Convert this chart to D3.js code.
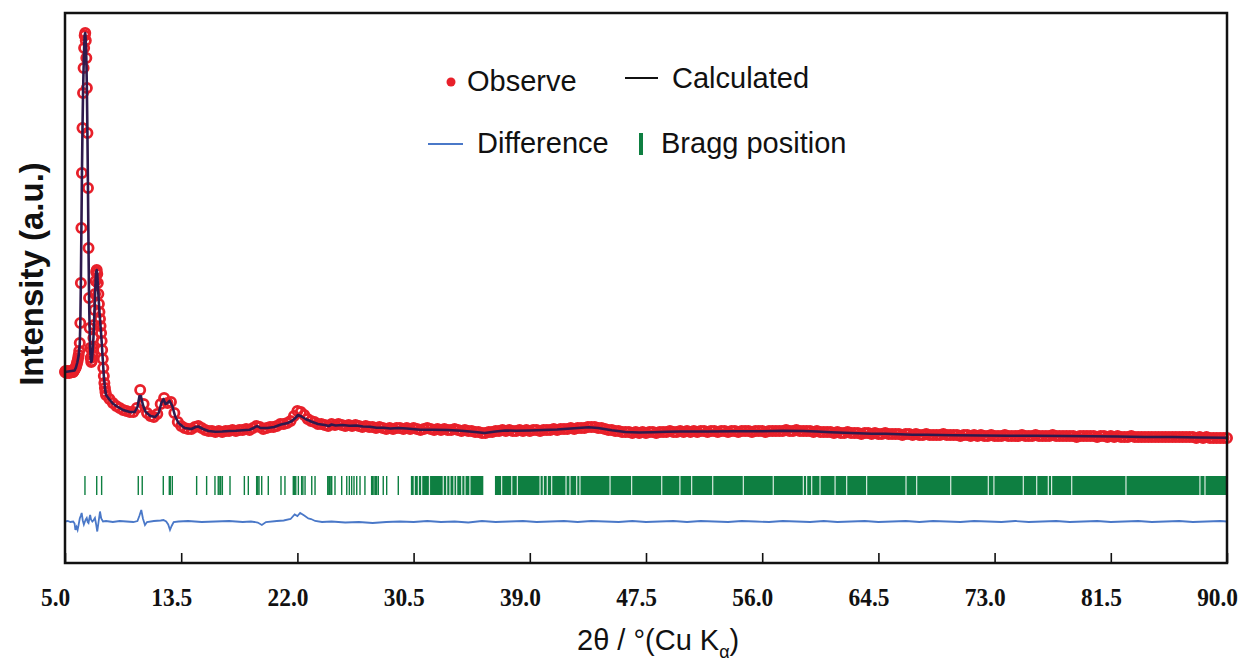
<!DOCTYPE html>
<html>
<head>
<meta charset="utf-8">
<script src="https://cdn.jsdelivr.net/npm/d3@7"></script>
<style>
  html, body { margin: 0; padding: 0; background: #ffffff; }
  svg { display: block; }
</style>
</head>
<body>
<svg id="chart" width="1243" height="667"></svg>
<script>
// ---- x axis ticks (2θ, degrees) ----
const xTicks = [5.0, 13.5, 22.0, 30.5, 39.0, 47.5, 56.0, 64.5, 73.0, 81.5, 90.0];

// ---- observed pattern, low-angle scan (fine step) ----
const scanA = { start: 5.0, step: 0.04 };
const obsA = [
  1820, 1840, 1820, 1800, 1820, 1840, 1820, 1820, 1800, 1820, 1840, 1820, 1820, 1840, 1820, 1820, 1840, 1860,
  1880, 1900, 1920, 1960, 2000, 2040, 2100,
  2160, 2240, 2400, 2800, 3600, 4700, 5800, 6700, 7400, 7900, 8300, 8550, 8600, 8450, 8100, 7500, 6600, 5500, 4300, 3300, 2700, 2300, 2100, 2020, 2040,
  2160, 2300, 2500, 2760, 3060, 3380, 3640, 3820, 3860, 3780, 3600, 3380, 3180, 3020, 2880, 2740, 2600, 2440, 2260, 2080, 1900, 1740, 1600, 1500, 1420
];

// ---- observed pattern, main scan (0.25° step, 8°–90°) ----
const scanB = { start: 8.0, step: 0.25 };
const obsB = [
  1360, 1280, 1200, 1140,  1100, 1060, 1040, 1020,  1020, 1100, 1460, 1180,  1000, 940, 920, 980,
  1180, 1300, 1200, 1220,  1000, 820, 740, 700,  680, 680, 720, 740,  700, 660, 640, 640,
  620, 640, 620, 640,  640, 660, 640, 660,  660, 680, 660, 700,  740, 720, 680, 700,
  720, 720, 740, 780,  780, 800, 840, 940,  1040, 1020, 960, 880,  840, 820, 780, 780,
  760, 740, 780, 760,  780, 760, 740, 760,  740, 760, 740, 720,  740, 720, 720, 700,
  720, 700, 680, 700,  680, 700, 700, 680,  700, 680, 700, 680,  660, 680, 700, 680,
  660, 680, 660, 680,  660, 660, 680, 660,  640, 660, 640, 640,  620, 620, 600, 600,
  620, 620, 640, 640,  660, 640, 660, 640,  640, 660, 640, 660,  640, 660, 660, 640,
  660, 660, 660, 680,  660, 680, 680, 680,  700, 680, 700, 700,  700, 720, 720, 720,
  700, 700, 680, 660,  660, 640, 640, 620,  620, 620, 600, 620,  600, 620, 600, 620,
  620, 600, 620, 620,  620, 640, 620, 620,  640, 620, 640, 620,  640, 620, 640, 640,
  620, 640, 640, 620,  640, 640, 620, 640,  640, 620, 640, 640,  640, 620, 640, 640,
  640, 620, 640, 640,  640, 640, 640, 660,  640, 640, 660, 640,  640, 640, 640, 620,
  640, 620, 620, 620,  620, 600, 620, 600,  600, 620, 600, 600,  600, 580, 600, 600,
  580, 600, 580, 580,  600, 580, 580, 580,  580, 560, 580, 580,  560, 580, 560, 560,
  580, 560, 560, 560,  560, 580, 560, 560,  560, 560, 540, 560,  560, 540, 560, 540,
  560, 540, 540, 560,  540, 540, 540, 560,  540, 540, 540, 540,  560, 540, 540, 540,
  560, 540, 540, 540,  540, 560, 540, 540,  540, 540, 540, 540,  520, 540, 540, 540,
  540, 540, 520, 540,  540, 520, 540, 520,  540, 520, 520, 520,  540, 520, 520, 520,
  520, 520, 520, 520,  520, 520, 520, 520,  520, 520, 520, 520,  520, 520, 520, 500,
  520, 500, 520, 500,  500, 500, 500, 500,
  500
];

// ---- calculated profile [2θ, intensity] ----
const calcPoints = [
  [5.0,1820],[5.7,1850],[5.8,1910],[5.9,2010],[6.0,2150],[6.08,2380],[6.12,2780],[6.16,3580],[6.2,4680],
  [6.24,5790],[6.28,6700],[6.32,7400],[6.36,7900],[6.4,8300],[6.44,8560],[6.48,8600],[6.52,8440],[6.56,8090],
  [6.6,7500],[6.64,6600],[6.68,5500],[6.72,4300],[6.76,3300],[6.8,2700],[6.84,2300],[6.88,2100],[6.92,2020],
  [6.96,2040],[7.0,2160],[7.08,2500],[7.16,3060],[7.24,3640],[7.28,3820],[7.32,3860],[7.36,3780],[7.44,3380],
  [7.52,3020],[7.6,2740],[7.68,2440],[7.76,2080],[7.84,1740],[7.92,1500],[8.0,1360],[8.25,1270],[8.5,1190],
  [8.75,1140],[9.25,1060],[9.75,1020],[10.1,1020],[10.3,1120],[10.45,1340],[10.55,1340],[10.7,1160],[10.9,1020],
  [11.25,940],[11.6,920],[11.85,1000],[12.05,1200],[12.2,1280],[12.35,1180],[12.5,1200],[12.65,1240],[12.85,1140],
  [13.05,940],[13.3,800],[13.75,700],[14.25,680],[14.55,720],[14.75,730],[15.1,680],[15.5,640],[16.0,625],
  [16.5,630],[17.0,640],[17.5,645],[18.0,655],[18.5,665],[18.8,700],[19.05,740],[19.3,700],[19.8,700],
  [20.3,720],[20.8,770],[21.3,800],[21.6,840],[21.85,900],[22.05,960],[22.3,930],[22.6,880],[23.0,830],
  [23.5,780],[24.0,760],[24.3,740],[24.5,770],[24.8,750],[25.3,760],[25.8,745],[26.3,750],[26.8,730],
  [27.3,725],[27.8,705],[28.3,705],[28.8,690],[29.4,700],[30.0,690],[31.0,665],[32.0,665],[33.0,660],
  [34.0,645],[35.0,620],[35.7,600],[36.5,630],[37.2,650],[38.0,645],[39.0,650],[40.0,660],[41.0,670],
  [42.0,690],[43.3,715],[44.0,700],[45.0,655],[46.0,620],[47.0,610],[48.0,615],[49.0,625],[50.0,630],
  [52.0,630],[54.0,635],[56.0,635],[57.5,645],[59.0,640],[60.0,630],[61.0,615],[62.0,605],[63.0,595],
  [64.0,585],[65.0,585],[66.0,575],[67.0,565],[68.0,565],[70.0,555],[72.0,550],[74.0,545],[76.0,545],
  [78.0,540],[80.0,535],[82.0,530],[84.0,520],[86.0,520],[88.0,510],[90.0,505]
];

// ---- difference (obs − calc) [2θ, intensity], plotted below the pattern ----
const diffOffset = -1170;
const diffPoints = [
  [5.0,0],[5.2,10],[5.4,-10],[5.6,0],[5.7,-40],[5.76,-170],[5.84,-110],[5.92,-170],[6.0,-60],[6.08,60],
  [6.16,120],[6.22,170],[6.3,20],[6.38,-60],[6.46,0],[6.52,40],[6.59,70],[6.66,-10],[6.72,-30],[6.78,60],
  [6.84,130],[6.9,40],[7.0,0],[7.1,30],[7.19,70],[7.28,-60],[7.36,-200],[7.45,-20],[7.56,200],[7.65,60],
  [7.78,0],[8.0,10],[8.5,-10],[9.0,10],[9.5,0],[10.0,-10],[10.3,10],[10.45,120],[10.58,230],[10.7,60],
  [10.85,-70],[11.0,-10],[11.5,10],[12.0,20],[12.2,30],[12.4,0],[12.55,-60],[12.68,-170],[12.8,-90],[12.95,-10],
  [13.3,0],[14.0,10],[15.0,-10],[16.0,0],[17.0,10],[18.0,-10],[18.6,0],[19.1,-20],[19.4,-70],[19.7,-10],
  [20.5,10],[21.0,20],[21.5,50],[21.8,140],[22.0,110],[22.2,170],[22.5,120],[22.8,60],[23.0,50],[23.3,10],
  [23.8,-10],[24.5,0],[25.5,-20],[26.5,-10],[27.5,-30],[28.0,-20],[28.5,-10],[29.5,0],[30.5,-10],[31.5,10],
  [32.5,-10],[33.5,0],[34.5,-20],[35.5,10],[36.5,-10],[37.5,0],[38.5,10],[39.5,-10],[40.5,0],[41.5,10],
  [42.5,-10],[43.5,10],[44.5,0],[45.5,-10],[46.5,10],[47.5,-10],[48.5,0],[49.5,10],[50.5,-10],[51.5,10],
  [52.5,0],[53.5,-10],[54.5,10],[55.5,0],[56.5,-10],[57.5,10],[58.5,0],[59.5,-10],[60.5,10],[61.5,-10],
  [62.5,0],[63.5,10],[64.5,-10],[65.5,0],[66.5,10],[67.5,-10],[68.5,10],[69.5,0],[70.5,-10],[71.5,10],
  [72.5,0],[73.5,-10],[74.5,10],[75.5,-10],[76.5,0],[77.5,10],[78.5,-10],[79.5,0],[80.5,10],[81.5,-10],
  [82.5,0],[83.5,10],[84.5,-10],[85.5,0],[86.5,10],[87.5,-10],[88.5,0],[89.5,10],[90.0,0]
];

// ---- Bragg reflections ----
const braggTicks = [
  6.46, 7.32, 7.68, 10.36, 10.65, 12.19, 12.63, 12.70, 12.85, 14.63, 15.36, 15.97, 16.21, 16.33, 16.39, 16.51,
  17.07, 18.12, 18.41, 19.02, 19.10, 19.19, 19.39, 19.87, 20.80, 21.09, 21.70, 21.80, 21.88, 22.07, 22.31,
  22.40, 22.56, 23.05, 23.29, 24.22, 24.30, 24.36, 24.45, 24.51, 24.75, 25.24, 25.61, 25.80, 25.97, 26.14,
  26.34, 26.58, 26.94, 27.43, 27.50, 27.60, 27.70, 27.80, 27.92, 28.28, 28.53, 29.38
];
// ranges where reflections are too close to separate
const braggRanges = [[30.30, 35.60], [36.45, 90.0]];
const braggGaps = [
  30.55, 30.85, 31.09, 31.66, 32.67, 32.92, 33.16, 33.45, 33.65, 34.02, 34.26, 34.62,
  36.94, 37.68, 38.09, 39.75, 39.99, 40.28, 40.60, 41.65, 41.94, 42.43, 42.67, 44.87, 46.45, 48.65,
  49.98, 50.84, 52.38, 54.62, 56.81, 59.01, 59.25, 59.62, 60.23, 61.33, 62.18, 63.64, 66.52, 67.30,
  69.79, 72.54, 72.95, 75.10, 76.08, 76.93, 77.17, 78.64, 82.61, 88.02, 88.39
];
const braggBand = [-640, -260];

// ---- legend ----
const legendItems = ["Observe", "Calculated", "Difference", "Bragg position"];

const colors = {
  obs: "#e8202a",
  calc: "#2e1a4d",
  diff: "#4a78c8",
  bragg: "#0e7f41"
};

// ---------------------------------------------------------------
const svg = d3.select("#chart");
const plotLeft = 65, plotRight = 1227, plotTop = 13, plotBottom = 563;

const x = d3.scaleLinear().domain([5, 90]).range([plotLeft, plotRight]);
const y = d3.scaleLinear().domain([-2000, 9000]).range([plotBottom, plotTop]);

const toPoints = (scan, vals) => vals.map((v, i) => [scan.start + i * scan.step, v]);
const obsPoints = toPoints(scanA, obsA).concat(toPoints(scanB, obsB));

// Bragg markers
const gB = svg.append("g");
gB.selectAll("line.tick")
  .data(braggTicks)
  .join("line")
  .attr("class", "tick")
  .attr("x1", d => x(d)).attr("x2", d => x(d))
  .attr("y1", y(braggBand[1])).attr("y2", y(braggBand[0]))
  .attr("stroke", colors.bragg)
  .attr("stroke-width", 1.4);
gB.selectAll("rect")
  .data(braggRanges)
  .join("rect")
  .attr("x", d => x(d[0]))
  .attr("width", d => x(d[1]) - x(d[0]))
  .attr("y", y(braggBand[1]))
  .attr("height", y(braggBand[0]) - y(braggBand[1]))
  .attr("fill", colors.bragg);
gB.selectAll("line.gap")
  .data(braggGaps)
  .join("line")
  .attr("class", "gap")
  .attr("x1", d => x(d)).attr("x2", d => x(d))
  .attr("y1", y(braggBand[1])).attr("y2", y(braggBand[0]))
  .attr("stroke", "#ffffff")
  .attr("stroke-opacity", 0.85)
  .attr("stroke-width", 1.2);

// difference curve
svg.append("path")
  .datum(diffPoints)
  .attr("fill", "none")
  .attr("stroke", colors.diff)
  .attr("stroke-width", 1.8)
  .attr("d", d3.line().x(d => x(d[0])).y(d => y(d[1] + diffOffset)));

// observed points (open circles)
svg.append("g")
  .selectAll("circle")
  .data(obsPoints)
  .join("circle")
  .attr("cx", d => x(d[0]))
  .attr("cy", d => y(d[1]))
  .attr("r", 4.6)
  .attr("fill", "none")
  .attr("stroke", colors.obs)
  .attr("stroke-width", 2.8);

// calculated profile
svg.append("path")
  .datum(calcPoints)
  .attr("fill", "none")
  .attr("stroke", colors.calc)
  .attr("stroke-width", 2.6)
  .attr("stroke-linejoin", "round")
  .attr("d", d3.line().x(d => x(d[0])).y(d => y(d[1])));

// bottom axis with inward ticks; labels sit slightly left of their ticks
const xAxis = d3.axisBottom(x)
  .tickValues(xTicks)
  .tickFormat(d3.format(".1f"))
  .tickSizeInner(-10)
  .tickSizeOuter(0)
  .tickPadding(25);
const gx = svg.append("g").attr("transform", `translate(0,${plotBottom})`).call(xAxis);
gx.select(".domain").remove();
gx.selectAll(".tick line").attr("stroke", "#111").attr("stroke-width", 1.6);
gx.selectAll(".tick text")
  .attr("fill", "#111")
  .attr("x", -11)
  .attr("transform", "scale(0.9,1)")
  .style("font-family", "'Liberation Serif', 'Times New Roman', serif")
  .style("font-weight", "bold")
  .style("font-size", "26px");

// frame
svg.append("rect")
  .attr("x", plotLeft).attr("y", plotTop)
  .attr("width", plotRight - plotLeft).attr("height", plotBottom - plotTop)
  .attr("fill", "none")
  .attr("stroke", "#111")
  .attr("stroke-width", 2.5);

// axis titles
const xt = svg.append("text")
  .attr("x", 577).attr("y", 650)
  .attr("fill", "#111")
  .style("font-family", "'Liberation Sans', Arial, sans-serif")
  .style("font-size", "29px");
xt.append("tspan").text("2θ / °(Cu K");
xt.append("tspan").attr("dy", 8).style("font-size", "18px").text("α");
xt.append("tspan").attr("dy", -8).text(")");

svg.append("text")
  .attr("transform", "translate(31,274) rotate(-90)")
  .attr("text-anchor", "middle")
  .attr("dominant-baseline", "central")
  .attr("fill", "#111")
  .style("font-family", "'Liberation Sans', Arial, sans-serif")
  .style("font-weight", "bold")
  .style("font-size", "33px")
  .text("Intensity (a.u.)");

// legend
const lg = svg.append("g")
  .style("font-family", "'Liberation Sans', Arial, sans-serif")
  .style("font-size", "29px")
  .attr("fill", "#111");
lg.append("circle").attr("cx", 451).attr("cy", 82).attr("r", 4.5).attr("fill", colors.obs);
lg.append("text").attr("x", 467).attr("y", 91).text(legendItems[0]);
lg.append("line").attr("x1", 625).attr("x2", 658).attr("y1", 78).attr("y2", 78)
  .attr("stroke", "#111").attr("stroke-width", 2);
lg.append("text").attr("x", 672).attr("y", 88).text(legendItems[1]);
lg.append("line").attr("x1", 428).attr("x2", 463).attr("y1", 144).attr("y2", 144)
  .attr("stroke", colors.diff).attr("stroke-width", 2);
lg.append("text").attr("x", 477).attr("y", 153).text(legendItems[2]);
lg.append("rect").attr("x", 639).attr("y", 133).attr("width", 4).attr("height", 22).attr("fill", colors.bragg);
lg.append("text").attr("x", 661).attr("y", 153).text(legendItems[3]);
</script>
</body>
</html>
